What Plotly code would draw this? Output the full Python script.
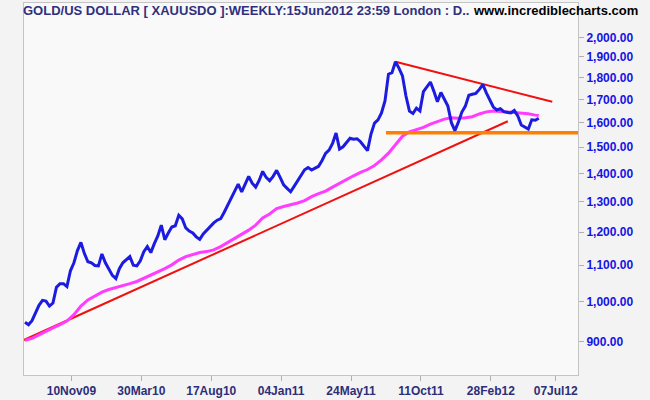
import math
import pandas as pd
import plotly.graph_objects as go

# ---- data ----
week_dates = pd.date_range("2009-08-09", periods=148, freq="7D")

gold_close = [
    947, 941, 951, 969, 990, 1003, 1001, 988, 996, 1038,
    1048, 1048, 1040, 1084, 1107, 1143, 1168, 1134, 1110, 1107,
    1099, 1098, 1133, 1107, 1087, 1071, 1062, 1090, 1107, 1116,
    1125, 1100, 1098, 1113, 1140, 1155, 1137, 1164, 1188,
    1222, 1176, 1197, 1216, 1220, 1254, 1242, 1213, 1203, 1197, 1185,
    1177, 1194, 1206, 1216, 1229, 1238, 1243, 1264, 1286, 1311,
    1336, 1361, 1333, 1361, 1389, 1364, 1350, 1374, 1407, 1385,
    1373, 1389, 1411, 1385, 1358, 1346, 1334, 1353, 1373, 1396,
    1413, 1421, 1412, 1419, 1426, 1448, 1475, 1488, 1514, 1556,
    1492, 1501, 1517, 1535, 1531, 1533, 1521, 1501, 1486, 1552,
    1597, 1611, 1640, 1693, 1816, 1823, 1876, 1845, 1808, 1715,
    1648, 1638, 1661, 1649, 1735, 1757, 1779, 1736, 1689, 1731,
    1701, 1670, 1599, 1566, 1601, 1644, 1670, 1718, 1723, 1727,
    1745, 1767, 1729, 1697, 1666, 1653, 1659, 1646, 1644, 1640,
    1651, 1628, 1589, 1581, 1572, 1611, 1609, 1618,
]

ma_values = [
    903, 908, 916, 925, 933, 941, 950, 966, 988, 1004,
    1015, 1025, 1032, 1038, 1043, 1048, 1054, 1063, 1070, 1080,
    1090, 1101, 1115, 1125, 1131, 1137, 1140, 1145, 1155, 1167,
    1181, 1194, 1206, 1222, 1245, 1258, 1276, 1283, 1288, 1295,
    1303, 1317, 1327, 1336, 1350, 1364, 1378, 1391, 1403, 1414,
    1429, 1450, 1476, 1511, 1543, 1561, 1569, 1579, 1593, 1605,
    1614, 1620, 1618, 1620, 1624, 1636, 1645, 1649, 1647, 1645,
    1644, 1642, 1637, 1631,
    1629,
]
ma_dates = list(week_dates[::2]) + [week_dates[-1]]

support_dates = ["2009-08-07", "2012-04-02"]
support_values = [904, 1605]
resist_dates = ["2011-08-21", "2012-06-30"]
resist_values = [1876, 1689]
floor_dates = ["2011-08-02", "2012-08-21"]
floor_values = [1557, 1557]

tick_dates = ["2009-11-10", "2010-03-30", "2010-08-17", "2011-01-04",
              "2011-05-24", "2011-10-11", "2012-02-28", "2012-07-07"]
tick_labels = ["10Nov09", "30Mar10", "17Aug10", "04Jan11",
               "24May11", "11Oct11", "28Feb12", "07Jul12"]
price_ticks = [900, 1000, 1100, 1200, 1300, 1400, 1500, 1600, 1700, 1800, 1900, 2000]

title_text = "GOLD/US DOLLAR [ XAUUSDO ]:WEEKLY:15Jun2012 23:59 London : D.."
site_text = "www.incrediblecharts.com"

# ---- figure ----
fig = go.Figure()
fig.add_trace(go.Scatter(x=support_dates, y=support_values, mode="lines",
                         line=dict(color="#f01010", width=2), hoverinfo="skip"))
fig.add_trace(go.Scatter(x=resist_dates, y=resist_values, mode="lines",
                         line=dict(color="#f01010", width=2), hoverinfo="skip"))
fig.add_trace(go.Scatter(x=ma_dates, y=ma_values, mode="lines",
                         line=dict(color="#ff3cff", width=3)))
fig.add_trace(go.Scatter(x=floor_dates, y=floor_values, mode="lines",
                         line=dict(color="#ff8000", width=3.5), hoverinfo="skip"))
fig.add_trace(go.Scatter(x=week_dates, y=gold_close, mode="lines",
                         line=dict(color="#1c1ce0", width=3)))

W, H = 650, 400
ml, mr, mt, mb = 24, 72, 2, 22
pw, ph = W - ml - mr, H - mt - mb

def px_x(x):
    return (x - ml) / pw

def px_y(y):
    return (H - mb - y) / ph

fig.update_layout(
    width=W, height=H,
    margin=dict(l=ml, r=mr, t=mt, b=mb, pad=0),
    paper_bgcolor="#f3f3f3",
    plot_bgcolor="#f9f9f9",
    showlegend=False,
    xaxis=dict(
        type="date",
        range=["2009-08-07", "2012-08-20 14:00"],
        tickvals=tick_dates, ticktext=tick_labels,
        ticks="outside", ticklen=5, tickcolor="#b0b0b0",
        showline=True, linecolor="#c4c4c4", linewidth=1, mirror=True,
        showgrid=False, zeroline=False,
        tickfont=dict(family="Liberation Sans, Arial", size=12, color="#2e2e78", weight="bold"),
    ),
    yaxis=dict(
        type="log",
        range=[math.log10(824.6), math.log10(2189)],
        side="right",
        tickvals=price_ticks, tickformat=",.2f",
        ticks="outside", ticklen=5, tickcolor="#b0b0b0",
        showline=True, linecolor="#c4c4c4", linewidth=1, mirror=True,
        showgrid=False, zeroline=False,
        tickfont=dict(family="Liberation Sans, Arial", size=12, color="#1414e6", weight="bold"),
    ),
    annotations=[
        dict(text=title_text, xref="paper", yref="paper", x=px_x(21), y=px_y(10),
             xanchor="left", yanchor="middle", showarrow=False,
             font=dict(family="Liberation Sans, Arial", size=13, color="#30307e", weight="bold")),
        dict(text=site_text, xref="paper", yref="paper", x=px_x(640), y=px_y(10),
             xanchor="right", yanchor="middle", showarrow=False,
             font=dict(family="Liberation Sans, Arial", size=13, color="#000000", weight="bold")),
    ],
)

fig.write_html("out.html", config={"displayModeBar": False},
               post_script="document.body.style.margin='0';document.body.style.padding='0';")
